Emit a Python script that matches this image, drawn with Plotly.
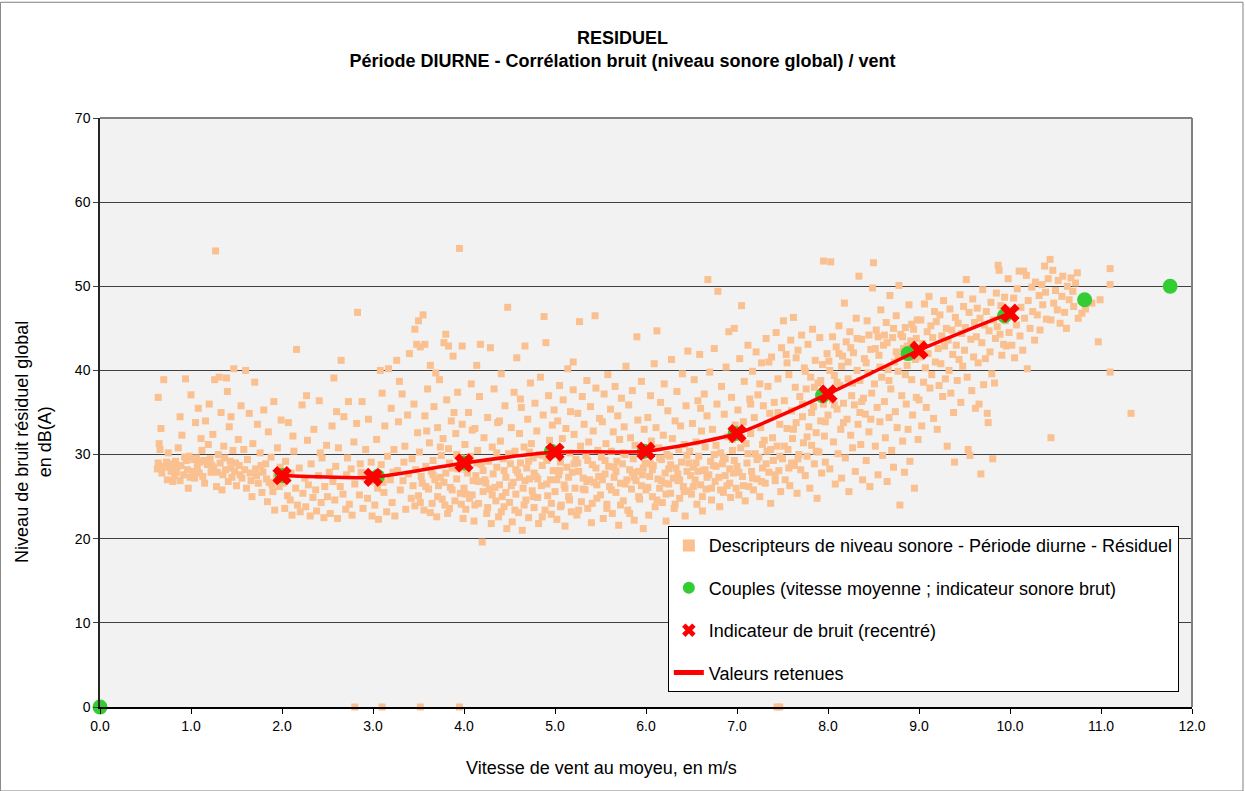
import plotly.graph_objects as go

# ---------------- data ----------------
# measured descriptors (wind speed m/s, residual level dB(A)), read off the picture
pts_0_1 = [(0.63,28.3),(0.64,29.0),(0.66,30.6),(0.65,31.3),(0.67,33.1),(0.64,36.8),(0.70,38.9),(0.72,28.5),(0.74,27.0),(0.76,28.9),
           (0.78,28.0),(0.80,26.8),(0.82,27.5),(0.85,28.6),(0.86,30.8),(0.88,26.9),(0.90,32.3),(0.92,27.6),(0.94,39.0),(0.95,29.3),
           (0.96,28.2),(0.98,29.8),(1.00,37.1),(0.97,26.0),(0.83,29.2),(0.69,28.6),(0.75,30.2),(0.88,34.5)]
pts_1_15 = [(1.02,28.0),(1.04,27.2),(1.05,33.8),(1.07,28.6),(1.08,35.5),(1.10,29.1),(1.11,31.9),(1.13,27.4),(1.15,26.6),(1.16,34.0),
            (1.18,28.8),(1.20,36.0),(1.21,29.5),(1.22,27.9),(1.24,32.4),(1.25,28.4),(1.27,54.2),(1.28,26.2),(1.30,30.0),(1.31,39.2),
            (1.32,29.0),(1.33,35.0),(1.35,27.6),(1.36,31.0),(1.38,28.2),(1.39,39.1),(1.40,37.5),(1.41,26.8),(1.42,33.3),(1.43,29.2),
            (1.45,27.3),(1.46,30.5),(1.47,40.2),(1.48,28.0),(1.12,30.5),(1.19,31.2),(1.26,38.9),(1.34,25.8),(1.44,34.5),(1.06,29.6)]
pts_15_2 = [(1.50,26.3),(1.52,31.8),(1.53,28.7),(1.55,35.8),(1.56,27.2),(1.58,30.6),(1.60,40.0),(1.61,26.0),(1.62,29.4),(1.64,34.9),
            (1.65,27.8),(1.67,25.0),(1.68,31.3),(1.70,38.6),(1.71,28.3),(1.73,33.6),(1.74,26.6),(1.76,30.2),(1.78,25.5),(1.79,27.9),
            (1.80,35.3),(1.82,28.9),(1.84,24.4),(1.85,32.7),(1.86,26.7),(1.88,29.7),(1.90,25.6),(1.91,36.3),(1.92,23.4),(1.94,27.4),
            (1.95,30.8),(1.97,26.2),(1.98,28.5),(1.99,34.1)]
pts_2_25 = [(2.01,26.6),(2.03,23.6),(2.04,29.2),(2.06,25.1),(2.07,33.8),(2.09,24.6),(2.10,27.8),(2.11,22.8),(2.13,30.4),(2.15,26.0),
            (2.16,42.5),(2.17,24.0),(2.19,28.4),(2.20,23.2),(2.22,35.9),(2.23,25.4),(2.25,27.2),(2.26,23.8),(2.28,31.7),(2.29,26.4),
            (2.31,22.7),(2.32,28.9),(2.34,24.9),(2.35,33.0),(2.37,25.8),(2.38,23.3),(2.40,27.5),(2.41,36.4),(2.43,24.3),(2.44,29.6),
            (2.46,22.5),(2.47,26.2),(2.49,31.1),(2.12,32.2),(2.27,37.0),(2.42,30.2)]
pts_25_3 = [(2.50,25.0),(2.52,27.9),(2.53,23.0),(2.55,33.4),(2.57,39.1),(2.58,24.6),(2.59,28.6),(2.61,22.4),(2.62,30.8),(2.64,26.2),
            (2.65,41.2),(2.67,25.3),(2.68,34.5),(2.70,23.5),(2.71,27.6),(2.73,36.3),(2.74,24.1),(2.76,28.3),(2.77,22.8),(2.79,31.5),
            (2.80,26.5),(2.82,33.7),(2.83,46.9),(2.85,25.2),(2.86,28.9),(2.88,36.3),(2.89,23.6),(2.91,27.3),(2.92,30.6),(2.94,24.8),
            (2.95,34.2),(2.97,26.8),(2.98,29.1),(2.99,22.7),(2.60,35.1),(2.72,29.6),(2.87,27.9),(2.56,26.8)]
pts_3_35 = [(3.01,27.5),(3.02,24.0),(3.04,31.8),(3.05,26.0),(3.06,22.3),(3.08,40.0),(3.09,28.8),(3.10,37.3),(3.12,25.5),(3.13,33.4),
            (3.15,23.2),(3.16,29.8),(3.17,40.2),(3.19,27.0),(3.20,35.5),(3.21,24.3),(3.23,30.6),(3.24,22.7),(3.26,41.2),(3.27,28.1),
            (3.28,33.9),(3.29,38.7),(3.30,25.8),(3.32,37.2),(3.33,26.9),(3.35,31.0),(3.36,23.5),(3.38,34.7),(3.39,27.7),(3.40,42.0),
            (3.42,24.8),(3.43,29.5),(3.45,36.0),(3.46,23.9),(3.47,28.2),(3.49,32.6),(3.11,26.7),(3.22,27.9),(3.34,29.1),(3.44,26.3)]
pts_35_4 = [(3.50,25.1),(3.51,30.3),(3.52,42.8),(3.53,27.4),(3.55,46.6),(3.56,23.4),(3.57,34.6),(3.58,28.6),(3.60,37.8),(3.61,25.9),
            (3.62,31.4),(3.63,40.6),(3.65,24.2),(3.66,29.3),(3.67,35.7),(3.68,27.0),(3.70,22.6),(3.71,33.2),(3.72,26.3),(3.73,38.9),
            (3.75,29.9),(3.76,24.7),(3.77,31.9),(3.78,43.3),(3.80,27.8),(3.81,36.5),(3.82,23.0),(3.83,30.7),(3.85,26.1),(3.86,34.0),
            (3.87,28.4),(3.88,41.7),(3.90,24.5),(3.91,32.5),(3.92,27.1),(3.93,37.4),(3.95,54.5),(3.96,25.4),(3.97,29.6),(3.98,33.6),
            (3.99,22.4),(3.54,26.6),(3.64,28.0),(3.74,27.3),(3.84,29.0),(3.94,28.3),(3.59,32.8),(3.79,24.0),(3.89,35.0),(3.69,39.7),
            (3.50,45.9),(3.46,44.9),(3.80,44.3),(3.48,43.1),(3.57,43.1),(3.83,42.9),(3.98,42.9)]
pts_4_45 = [(4.00,26.0),(4.01,31.2),(4.02,23.5),(4.03,28.2),(4.05,35.0),(4.06,24.8),(4.07,29.8),(4.08,38.4),(4.10,26.9),(4.11,22.1),
            (4.12,33.1),(4.13,27.5),(4.15,30.5),(4.16,24.2),(4.17,36.9),(4.18,43.1),(4.19,28.8),(4.20,19.6),(4.21,25.6),(4.22,32.0),
            (4.23,27.0),(4.25,23.0),(4.26,34.4),(4.27,29.2),(4.28,25.9),(4.29,42.7),(4.30,21.8),(4.31,30.9),(4.32,27.7),(4.33,37.8),
            (4.35,24.5),(4.36,28.5),(4.37,33.8),(4.38,22.6),(4.39,26.4),(4.40,31.6),(4.41,39.6),(4.42,25.0),(4.43,29.5),(4.44,23.8),
            (4.45,35.8),(4.46,27.3),(4.47,21.2),(4.48,47.5),(4.49,30.1),(4.04,27.8),(4.09,25.2),(4.14,29.0),(4.24,26.6),(4.34,26.1),
            (4.44,28.1),(4.14,40.6),(4.39,34.0),(4.09,32.9)]
pts_45_5 = [(4.50,24.3),(4.51,28.9),(4.52,33.2),(4.53,22.0),(4.54,26.7),(4.55,37.4),(4.56,30.4),(4.57,25.3),(4.58,41.5),(4.59,27.9),
            (4.60,23.1),(4.61,32.5),(4.62,29.0),(4.63,35.6),(4.64,21.0),(4.65,26.0),(4.66,30.9),(4.67,42.9),(4.68,24.6),(4.69,28.4),
            (4.70,34.2),(4.71,22.5),(4.72,27.1),(4.73,38.5),(4.74,31.3),(4.75,25.7),(4.76,29.6),(4.77,23.7),(4.78,36.1),(4.79,27.4),
            (4.80,32.8),(4.81,24.9),(4.82,21.8),(4.83,30.0),(4.84,39.2),(4.85,26.3),(4.86,28.7),(4.87,34.7),(4.88,46.4),(4.89,23.4),
            (4.90,43.3),(4.91,29.3),(4.92,25.1),(4.93,37.0),(4.94,31.7),(4.95,27.0),(4.96,22.9),(4.97,33.5),(4.98,28.1),(4.99,35.3),
            (4.57,28.2),(4.67,26.9),(4.77,27.8),(4.87,29.9),(4.62,36.6),(4.72,30.3)]
pts_5_55 = [(5.00,25.6),(5.01,30.6),(5.02,22.3),(5.03,34.0),(5.04,27.6),(5.05,38.2),(5.06,29.1),(5.07,24.0),(5.08,31.9),(5.09,36.5),
            (5.10,26.4),(5.11,21.5),(5.12,33.1),(5.13,28.5),(5.14,40.2),(5.15,25.0),(5.16,30.2),(5.17,35.1),(5.18,23.2),(5.19,27.9),
            (5.20,37.7),(5.21,32.4),(5.22,26.0),(5.23,29.4),(5.24,22.8),(5.25,34.9),(5.26,28.0),(5.27,45.8),(5.28,31.0),(5.29,24.4),
            (5.30,36.9),(5.31,27.2),(5.32,33.6),(5.33,25.8),(5.34,29.9),(5.35,38.8),(5.36,23.6),(5.37,31.5),(5.38,27.0),(5.39,35.7),
            (5.40,21.9),(5.41,28.8),(5.42,32.8),(5.43,26.7),(5.44,46.5),(5.45,37.9),(5.46,24.8),(5.47,30.5),(5.48,27.4),(5.49,34.3),
            (5.05,28.1),(5.15,27.3),(5.25,29.0),(5.35,26.8),(5.45,28.4),(5.20,41.0)]
pts_55_6 = [(5.50,25.2),(5.51,29.7),(5.52,33.9),(5.53,22.4),(5.54,37.2),(5.55,27.7),(5.56,31.3),(5.57,24.1),(5.58,39.5),(5.59,28.6),
            (5.60,26.2),(5.61,35.4),(5.62,30.4),(5.63,23.0),(5.64,32.7),(5.65,27.3),(5.66,38.1),(5.67,25.5),(5.68,29.2),(5.69,34.6),
            (5.70,21.6),(5.71,31.8),(5.72,26.6),(5.73,36.7),(5.74,28.9),(5.75,24.5),(5.76,33.3),(5.77,30.0),(5.78,40.5),(5.79,27.0),
            (5.80,23.4),(5.81,35.9),(5.82,28.2),(5.83,32.0),(5.84,25.9),(5.85,37.6),(5.86,29.5),(5.87,22.2),(5.88,31.1),(5.89,26.9),
            (5.90,44.0),(5.91,34.1),(5.92,28.0),(5.93,24.7),(5.94,30.7),(5.95,38.7),(5.96,27.6),(5.97,21.2),(5.98,33.0),(5.99,29.0),
            (5.55,29.3),(5.65,28.5),(5.75,30.2),(5.85,27.9),(5.95,26.3)]
pts_6_65 = [(6.00,25.8),(6.01,30.3),(6.02,34.4),(6.03,22.8),(6.04,27.4),(6.05,37.0),(6.06,31.6),(6.07,25.0),(6.08,28.7),(6.09,40.8),
            (6.10,23.8),(6.11,33.2),(6.12,44.7),(6.13,27.1),(6.14,30.8),(6.15,26.0),(6.16,36.2),(6.17,29.4),(6.18,24.3),(6.19,32.3),
            (6.20,38.4),(6.21,27.8),(6.22,22.1),(6.23,30.0),(6.24,35.2),(6.25,26.5),(6.26,29.8),(6.27,25.4),(6.28,41.3),(6.29,31.9),
            (6.30,27.2),(6.31,23.6),(6.32,34.0),(6.33,28.4),(6.34,37.5),(6.35,26.9),(6.36,30.6),(6.37,24.8),(6.38,33.4),(6.39,29.1),
            (6.40,39.6),(6.41,26.2),(6.42,31.2),(6.43,22.7),(6.44,35.8),(6.45,28.0),(6.46,42.3),(6.47,25.7),(6.48,30.4),(6.49,27.5),
            (6.05,28.9),(6.15,29.6),(6.25,28.3),(6.35,27.7),(6.45,29.9),(6.21,26.6)]
pts_65_7 = [(6.50,25.3),(6.51,33.7),(6.52,28.5),(6.53,38.9),(6.54,27.0),(6.55,31.5),(6.56,24.1),(6.57,36.4),(6.58,29.8),(6.59,41.9),
            (6.60,26.4),(6.61,32.8),(6.62,23.3),(6.63,28.1),(6.64,37.2),(6.65,30.9),(6.66,25.9),(6.67,34.6),(6.68,50.8),(6.69,27.6),
            (6.70,39.8),(6.71,29.2),(6.72,24.6),(6.73,33.0),(6.74,28.7),(6.75,42.6),(6.76,26.8),(6.77,31.1),(6.78,36.0),(6.79,49.4),
            (6.80,27.3),(6.81,23.8),(6.82,30.2),(6.83,38.1),(6.84,28.9),(6.85,25.5),(6.86,34.8),(6.87,29.5),(6.88,40.4),(6.89,26.3),
            (6.90,32.1),(6.91,44.6),(6.92,28.3),(6.93,24.9),(6.94,36.8),(6.95,30.5),(6.96,27.8),(6.97,45.0),(6.98,33.5),(6.99,26.0),
            (6.55,29.0),(6.65,28.2),(6.75,30.0),(6.85,29.7),(6.95,31.8),(6.60,35.5)]
pts_7_75 = [(7.00,28.6),(7.01,35.3),(7.02,25.2),(7.03,41.4),(7.04,30.8),(7.05,47.7),(7.06,27.4),(7.07,33.9),(7.08,38.7),(7.09,24.5),
            (7.10,31.3),(7.11,29.0),(7.12,43.0),(7.13,26.2),(7.14,36.6),(7.15,32.5),(7.16,28.0),(7.17,39.9),(7.18,25.8),(7.19,34.4),
            (7.20,30.1),(7.21,42.2),(7.22,27.1),(7.23,37.1),(7.24,29.7),(7.25,25.0),(7.26,33.2),(7.27,40.9),(7.28,28.4),(7.29,35.8),
            (7.30,31.7),(7.31,26.6),(7.32,43.8),(7.33,30.4),(7.34,38.1),(7.35,27.9),(7.36,34.9),(7.37,24.2),(7.38,41.6),(7.39,32.0),
            (7.40,29.3),(7.41,36.2),(7.42,26.9),(7.43,44.5),(7.44,31.0),(7.45,39.0),(7.46,28.1),(7.47,33.6),(7.48,25.6),(7.49,42.7),
            (7.15,36.0),(7.25,38.4),(7.35,41.0),(7.45,35.0),(7.05,32.0),(7.28,31.2)]
pts_75_8 = [(7.50,29.5),(7.51,45.9),(7.52,36.4),(7.53,27.0),(7.54,41.9),(7.55,33.1),(7.56,30.6),(7.57,39.5),(7.58,26.3),(7.59,43.6),
            (7.60,35.2),(7.61,31.9),(7.62,46.3),(7.63,28.7),(7.64,38.0),(7.65,33.8),(7.66,25.4),(7.67,42.4),(7.68,30.0),(7.69,36.9),
            (7.70,28.2),(7.71,44.2),(7.72,34.5),(7.73,31.4),(7.74,40.3),(7.75,27.5),(7.76,37.8),(7.77,29.8),(7.78,43.1),(7.79,33.3),
            (7.80,26.0),(7.81,39.2),(7.82,31.1),(7.83,44.9),(7.84,35.7),(7.85,28.9),(7.86,41.2),(7.87,32.6),(7.88,24.8),(7.89,38.5),
            (7.90,30.3),(7.91,43.9),(7.92,34.0),(7.93,27.8),(7.94,40.7),(7.95,53.0),(7.96,32.2),(7.97,29.1),(7.98,37.3),(7.99,42.0),
            (7.55,40.9),(7.65,41.5),(7.75,39.9),(7.85,38.0),(7.95,36.0),(7.60,29.0)]
pts_8_85 = [(8.00,34.7),(8.01,41.1),(8.02,28.3),(8.03,52.9),(8.04,37.6),(8.05,44.0),(8.06,31.5),(8.07,39.4),(8.08,26.5),(8.09,42.8),
            (8.10,35.4),(8.11,30.1),(8.12,45.3),(8.13,38.2),(8.14,33.0),(8.15,27.2),(8.16,41.7),(8.17,36.1),(8.18,48.0),(8.19,29.6),
            (8.20,43.4),(8.21,34.2),(8.22,39.0),(8.23,25.6),(8.24,44.6),(8.25,32.3),(8.26,37.0),(8.27,30.8),(8.28,42.1),(8.29,35.9),
            (8.30,28.0),(8.31,46.2),(8.32,40.0),(8.33,33.6),(8.34,51.2),(8.35,38.8),(8.36,31.2),(8.37,43.7),(8.38,27.0),(8.39,36.7),
            (8.40,41.4),(8.41,34.8),(8.42,29.3),(8.43,45.9),(8.44,39.7),(8.45,32.7),(8.46,26.2),(8.47,42.5),(8.48,37.3),(8.49,49.8),
            (8.05,36.5),(8.15,40.5),(8.25,42.7),(8.35,35.0),(8.45,44.2),(8.10,38.6)]
pts_85_9 = [(8.50,52.8),(8.51,38.4),(8.52,31.0),(8.53,44.8),(8.54,35.6),(8.55,27.6),(8.56,41.8),(8.57,33.9),(8.58,47.2),(8.59,39.2),
            (8.60,29.9),(8.61,43.0),(8.62,36.3),(8.63,32.0),(8.64,45.7),(8.65,26.8),(8.66,40.1),(8.67,34.4),(8.68,48.9),(8.69,37.8),
            (8.70,30.5),(8.71,43.9),(8.72,28.5),(8.73,41.0),(8.74,35.1),(8.75,46.5),(8.76,33.2),(8.77,39.9),(8.78,50.1),(8.79,24.0),
            (8.80,44.3),(8.81,37.0),(8.82,31.6),(8.83,42.6),(8.84,27.9),(8.85,45.1),(8.86,36.0),(8.87,40.6),(8.88,33.0),(8.89,47.8),
            (8.90,29.2),(8.91,43.5),(8.92,38.9),(8.93,34.7),(8.94,44.9),(8.95,26.0),(8.96,41.3),(8.97,36.8),(8.98,46.0),(8.99,31.8),
            (8.55,44.0),(8.65,43.3),(8.75,42.2),(8.85,39.5)]
pts_9_95 = [(9.00,36.5),(9.01,41.6),(9.02,46.0),(9.03,33.4),(9.04,43.2),(9.05,38.6),(9.06,47.9),(9.07,40.3),(9.08,35.6),(9.09,44.6),
            (9.10,42.0),(9.11,48.8),(9.12,37.9),(9.13,45.3),(9.14,39.5),(9.15,43.9),(9.16,34.3),(9.17,47.0),(9.18,41.0),(9.19,45.8),
            (9.20,33.0),(9.21,42.6),(9.22,38.2),(9.23,46.6),(9.24,40.8),(9.25,44.1),(9.26,36.9),(9.27,48.3),(9.28,42.9),(9.29,39.0),
            (9.30,45.0),(9.31,31.0),(9.32,43.6),(9.33,40.0),(9.34,47.3),(9.35,37.3),(9.36,44.8),(9.37,41.9),(9.38,35.0),(9.39,29.1),
            (9.40,46.3),(9.41,43.0),(9.42,38.8),(9.43,45.6),(9.44,41.3),(9.45,49.0),(9.46,36.2),(9.47,44.4),(9.48,40.5),(9.49,47.6)]
pts_95_10 = [(9.50,42.4),(9.51,45.1),(9.52,50.8),(9.53,39.2),(9.54,30.6),(9.55,46.9),(9.56,29.9),(9.57,43.7),(9.58,37.6),(9.59,48.5),
             (9.60,41.6),(9.61,45.7),(9.62,35.5),(9.63,44.0),(9.64,47.4),(9.65,40.9),(9.66,36.0),(9.67,46.2),(9.68,27.7),(9.69,43.3),
             (9.70,49.6),(9.71,38.3),(9.72,45.4),(9.73,41.4),(9.74,47.0),(9.75,34.9),(9.76,33.8),(9.77,44.7),(9.78,42.2),(9.79,48.1),
             (9.80,39.6),(9.81,29.5),(9.82,46.0),(9.83,38.5),(9.84,43.8),(9.85,49.2),(9.86,45.2),(9.87,52.5),(9.88,51.9),(9.89,44.3),
             (9.90,47.7),(9.91,41.8),(9.92,46.4),(9.93,43.1),(9.94,48.7),(9.95,45.9),(9.96,42.9),(9.97,47.2),(9.98,50.9),(9.99,44.5)]
pts_10_up = [(10.00,46.8),(10.02,43.0),(10.04,48.6),(10.05,41.5),(10.07,45.4),(10.08,49.7),(10.10,51.8),(10.11,44.1),(10.12,47.5),
             (10.14,42.4),(10.15,51.8),(10.16,46.2),(10.18,51.3),(10.19,40.2),(10.20,48.3),(10.22,45.0),(10.24,49.9),(10.25,47.0),
             (10.27,43.6),(10.28,50.5),(10.30,46.6),(10.32,48.9),(10.33,44.8),(10.35,50.2),(10.36,47.8),(10.38,52.4),(10.39,49.3),
             (10.40,46.1),(10.42,50.9),(10.44,53.2),(10.45,46.0),(10.45,32.0),(10.47,51.9),(10.48,48.0),(10.50,49.5),(10.52,47.2),
             (10.53,50.7),(10.55,45.6),(10.57,48.8),(10.58,51.2),(10.60,46.9),(10.62,45.0),(10.63,50.0),(10.65,48.4),(10.67,51.0),
             (10.69,49.4),(10.70,47.6),(10.72,50.4),(10.74,51.6),(10.75,46.2),(10.79,46.8),(10.83,47.3),(10.90,48.0),(10.97,43.4),
             (10.99,48.4),(11.10,52.1),(11.10,50.2),(11.10,39.8),(11.33,34.9)]
pts_dense = [(3.52,24.3),(3.58,26.2),(3.63,23.1),(3.66,27.6),(3.71,25.0),(3.74,30.9),(3.78,26.7),(3.84,23.6),(3.87,25.8),(3.92,30.0),
             (3.97,24.1),(4.02,25.3),(4.06,29.3),(4.12,24.0),(4.16,26.8),(4.21,28.1),(4.26,23.7),(4.31,25.2),(4.36,30.2),(4.41,23.2),
             (4.46,25.5),(4.52,26.3),(4.56,23.4),(4.61,27.3),(4.66,24.0),(4.71,29.2),(4.76,25.0),(4.81,27.1),(4.86,22.6),(4.91,26.5),
             (4.96,24.2),(5.02,27.0),(5.06,23.8),(5.11,26.0),(5.16,24.6),(5.21,28.9),(5.26,23.4),(5.31,25.9),(5.36,29.3),(5.41,24.2),
             (5.46,26.4),(5.52,27.0),(5.57,23.6),(5.62,25.8),(5.67,28.0),(5.72,24.0),(5.77,26.5),(5.82,23.0),(5.87,27.3),(5.92,25.0),
             (5.97,28.4),(6.02,26.1),(6.07,28.2),(6.12,24.6),(6.17,26.9),(6.22,25.3),(6.27,28.8),(6.32,24.1),(6.37,27.0),(6.42,25.6),
             (6.47,29.0),(6.52,26.2),(6.57,28.0),(6.62,25.0),(6.67,27.3),(6.72,26.0),(6.77,28.6),(6.82,25.8),(6.87,27.5),(6.92,26.6),
             (6.97,29.3),(7.02,27.9),(7.07,26.3),(7.12,30.1),(7.17,27.2),(7.22,29.4),(7.27,26.8),(7.32,28.9),(7.37,30.6),(7.42,27.6),
             (7.47,29.8),(7.52,31.0),(7.57,28.4),(7.62,33.0),(7.67,29.5),(7.72,36.0),(7.77,32.1),(7.82,35.0),(7.87,30.4),(7.92,38.8),
             (7.97,33.9),(8.02,40.0),(8.07,35.9),(8.12,42.0),(8.17,33.8),(8.22,41.0),(8.27,38.5),(8.32,43.8),(8.37,36.3),(8.42,40.9),
             (8.47,34.2),(8.52,42.6),(8.57,40.4),(8.62,44.2),(8.67,38.8),(8.72,45.0),(8.77,41.6),(8.82,44.0),(8.87,42.9),(8.92,45.5),
             (8.97,43.8),(0.68,27.8),(0.73,29.1),(0.79,28.4),(0.84,27.9),(0.89,28.7),(0.93,29.7),(0.99,27.3),(1.03,29.4),(1.09,27.8),
             (1.14,29.3),(1.23,28.7),(1.29,27.9),(1.37,29.6),(1.44,28.4),(1.49,29.0),(1.54,27.6),(1.59,28.2),(1.66,26.9),(1.72,27.5),
             (1.77,28.7),(1.83,27.1),(1.89,26.4),(1.96,27.9)]
pts_zero = [(2.80,0.0),(3.10,0.0),(3.52,0.0),(3.95,0.0),(7.44,0.0),(7.47,0.0)]

all_pts = (pts_0_1 + pts_1_15 + pts_15_2 + pts_2_25 + pts_25_3 + pts_3_35 + pts_35_4 + pts_4_45 + pts_45_5 +
           pts_5_55 + pts_55_6 + pts_6_65 + pts_65_7 + pts_7_75 + pts_75_8 + pts_8_85 + pts_85_9 + pts_9_95 +
           pts_95_10 + pts_10_up + pts_dense + pts_zero)
desc_wind = [p[0] for p in all_pts]
desc_level = [p[1] for p in all_pts]

# couples (mean wind speed ; raw noise indicator)
couple_wind = [0.0, 2.0, 3.05, 4.0, 4.96, 5.98, 6.98, 7.94, 8.88, 9.94, 10.82, 11.76]
couple_level = [0.0, 27.5, 27.4, 29.0, 30.4, 30.4, 32.5, 37.0, 42.0, 46.5, 48.4, 50.0]

# recentred indicator / retained values
ind_wind = [2.0, 3.0, 4.0, 5.0, 6.0, 7.0, 8.0, 9.0, 10.0]
ind_level = [27.5, 27.3, 29.0, 30.3, 30.4, 32.5, 37.2, 42.4, 46.8]

x_ticks = [0, 1, 2, 3, 4, 5, 6, 7, 8, 9, 10, 11, 12]
y_ticks = [0, 10, 20, 30, 40, 50, 60, 70]

FONT = "Liberation Sans"

fig = go.Figure()
fig.add_trace(go.Scatter(
    x=desc_wind, y=desc_level, mode="markers",
    name="Descripteurs de niveau sonore - Période diurne - Résiduel",
    marker=dict(symbol="square", size=7, color="#FAC090", line=dict(width=0)),
    cliponaxis=False, legendgroup="a", legendrank=1))
fig.add_trace(go.Scatter(
    x=couple_wind, y=couple_level, mode="markers",
    name="Couples (vitesse moyenne ; indicateur sonore brut)",
    marker=dict(symbol="circle", size=15, color="#33CC33", line=dict(width=0)),
    cliponaxis=False, legendgroup="b", legendrank=2))
fig.add_trace(go.Scatter(
    x=ind_wind, y=ind_level, mode="lines",
    name="Valeurs retenues",
    line=dict(color="#FF0000", width=3.5, shape="spline", smoothing=0.6),
    legendgroup="d", legendrank=4))
fig.add_trace(go.Scatter(
    x=ind_wind, y=ind_level, mode="markers",
    name="Indicateur de bruit (recentré)",
    marker=dict(symbol="x", size=17, color="#FF0000", line=dict(width=0)),
    cliponaxis=False, legendgroup="c", legendrank=3))

fig.update_layout(
    width=1245, height=791,
    margin=dict(l=100, r=53, t=118, b=84),
    paper_bgcolor="white", plot_bgcolor="#F2F2F2",
    font=dict(family=FONT, size=14, color="#000000"),
    title=dict(text="<b>RESIDUEL</b><br><b>Période DIURNE - Corrélation bruit (niveau sonore global) / vent</b>",
               x=0.5, xanchor="center", y=0.945, yanchor="top",
               font=dict(family=FONT, size=18, color="#000000")),
    showlegend=True,
    legend=dict(x=0.52, xanchor="left", y=0.307, yanchor="top",
                bgcolor="white", bordercolor="#000000", borderwidth=1,
                font=dict(family=FONT, size=18, color="#000000"),
                traceorder="grouped", tracegroupgap=16, itemsizing="constant"),
    xaxis=dict(range=[0, 12], tickvals=x_ticks, ticktext=[f"{v:.1f}" for v in x_ticks],
               showgrid=False, zeroline=False, showline=True, linecolor="#000000", linewidth=1.5,
               ticks="outside", ticklen=5, tickcolor="#000000", tickfont=dict(size=14)),
    yaxis=dict(range=[0, 70], tickvals=y_ticks,
               showgrid=True, gridcolor="#404040", gridwidth=1, zeroline=False,
               showline=True, linecolor="#262626", linewidth=1.5,
               ticks="outside", ticklen=5, tickcolor="#404040", tickfont=dict(size=14)),
    shapes=[
        dict(type="line", xref="paper", yref="paper", x0=0, x1=1, y0=1, y1=1, line=dict(color="#808080", width=2)),
        dict(type="line", xref="paper", yref="paper", x0=1, x1=1, y0=0, y1=1, line=dict(color="#808080", width=2)),
        dict(type="rect", xref="paper", yref="paper", x0=-0.0912, x1=1.0467, y0=-0.1426, y1=1.1965,
             line=dict(color="#808080", width=1)),
    ],
    annotations=[
        dict(text="Vitesse de vent au moyeu, en m/s", xref="paper", yref="paper", x=0.459, y=-0.103,
             xanchor="center", yanchor="middle", showarrow=False, font=dict(family=FONT, size=18)),
        dict(text="Niveau de bruit résiduel global<br>en dB(A)", xref="paper", yref="paper", x=-0.0605, y=0.45,
             xanchor="center", yanchor="middle", showarrow=False, textangle=-90,
             font=dict(family=FONT, size=18)),
    ],
)

fig.write_html("out.html")
